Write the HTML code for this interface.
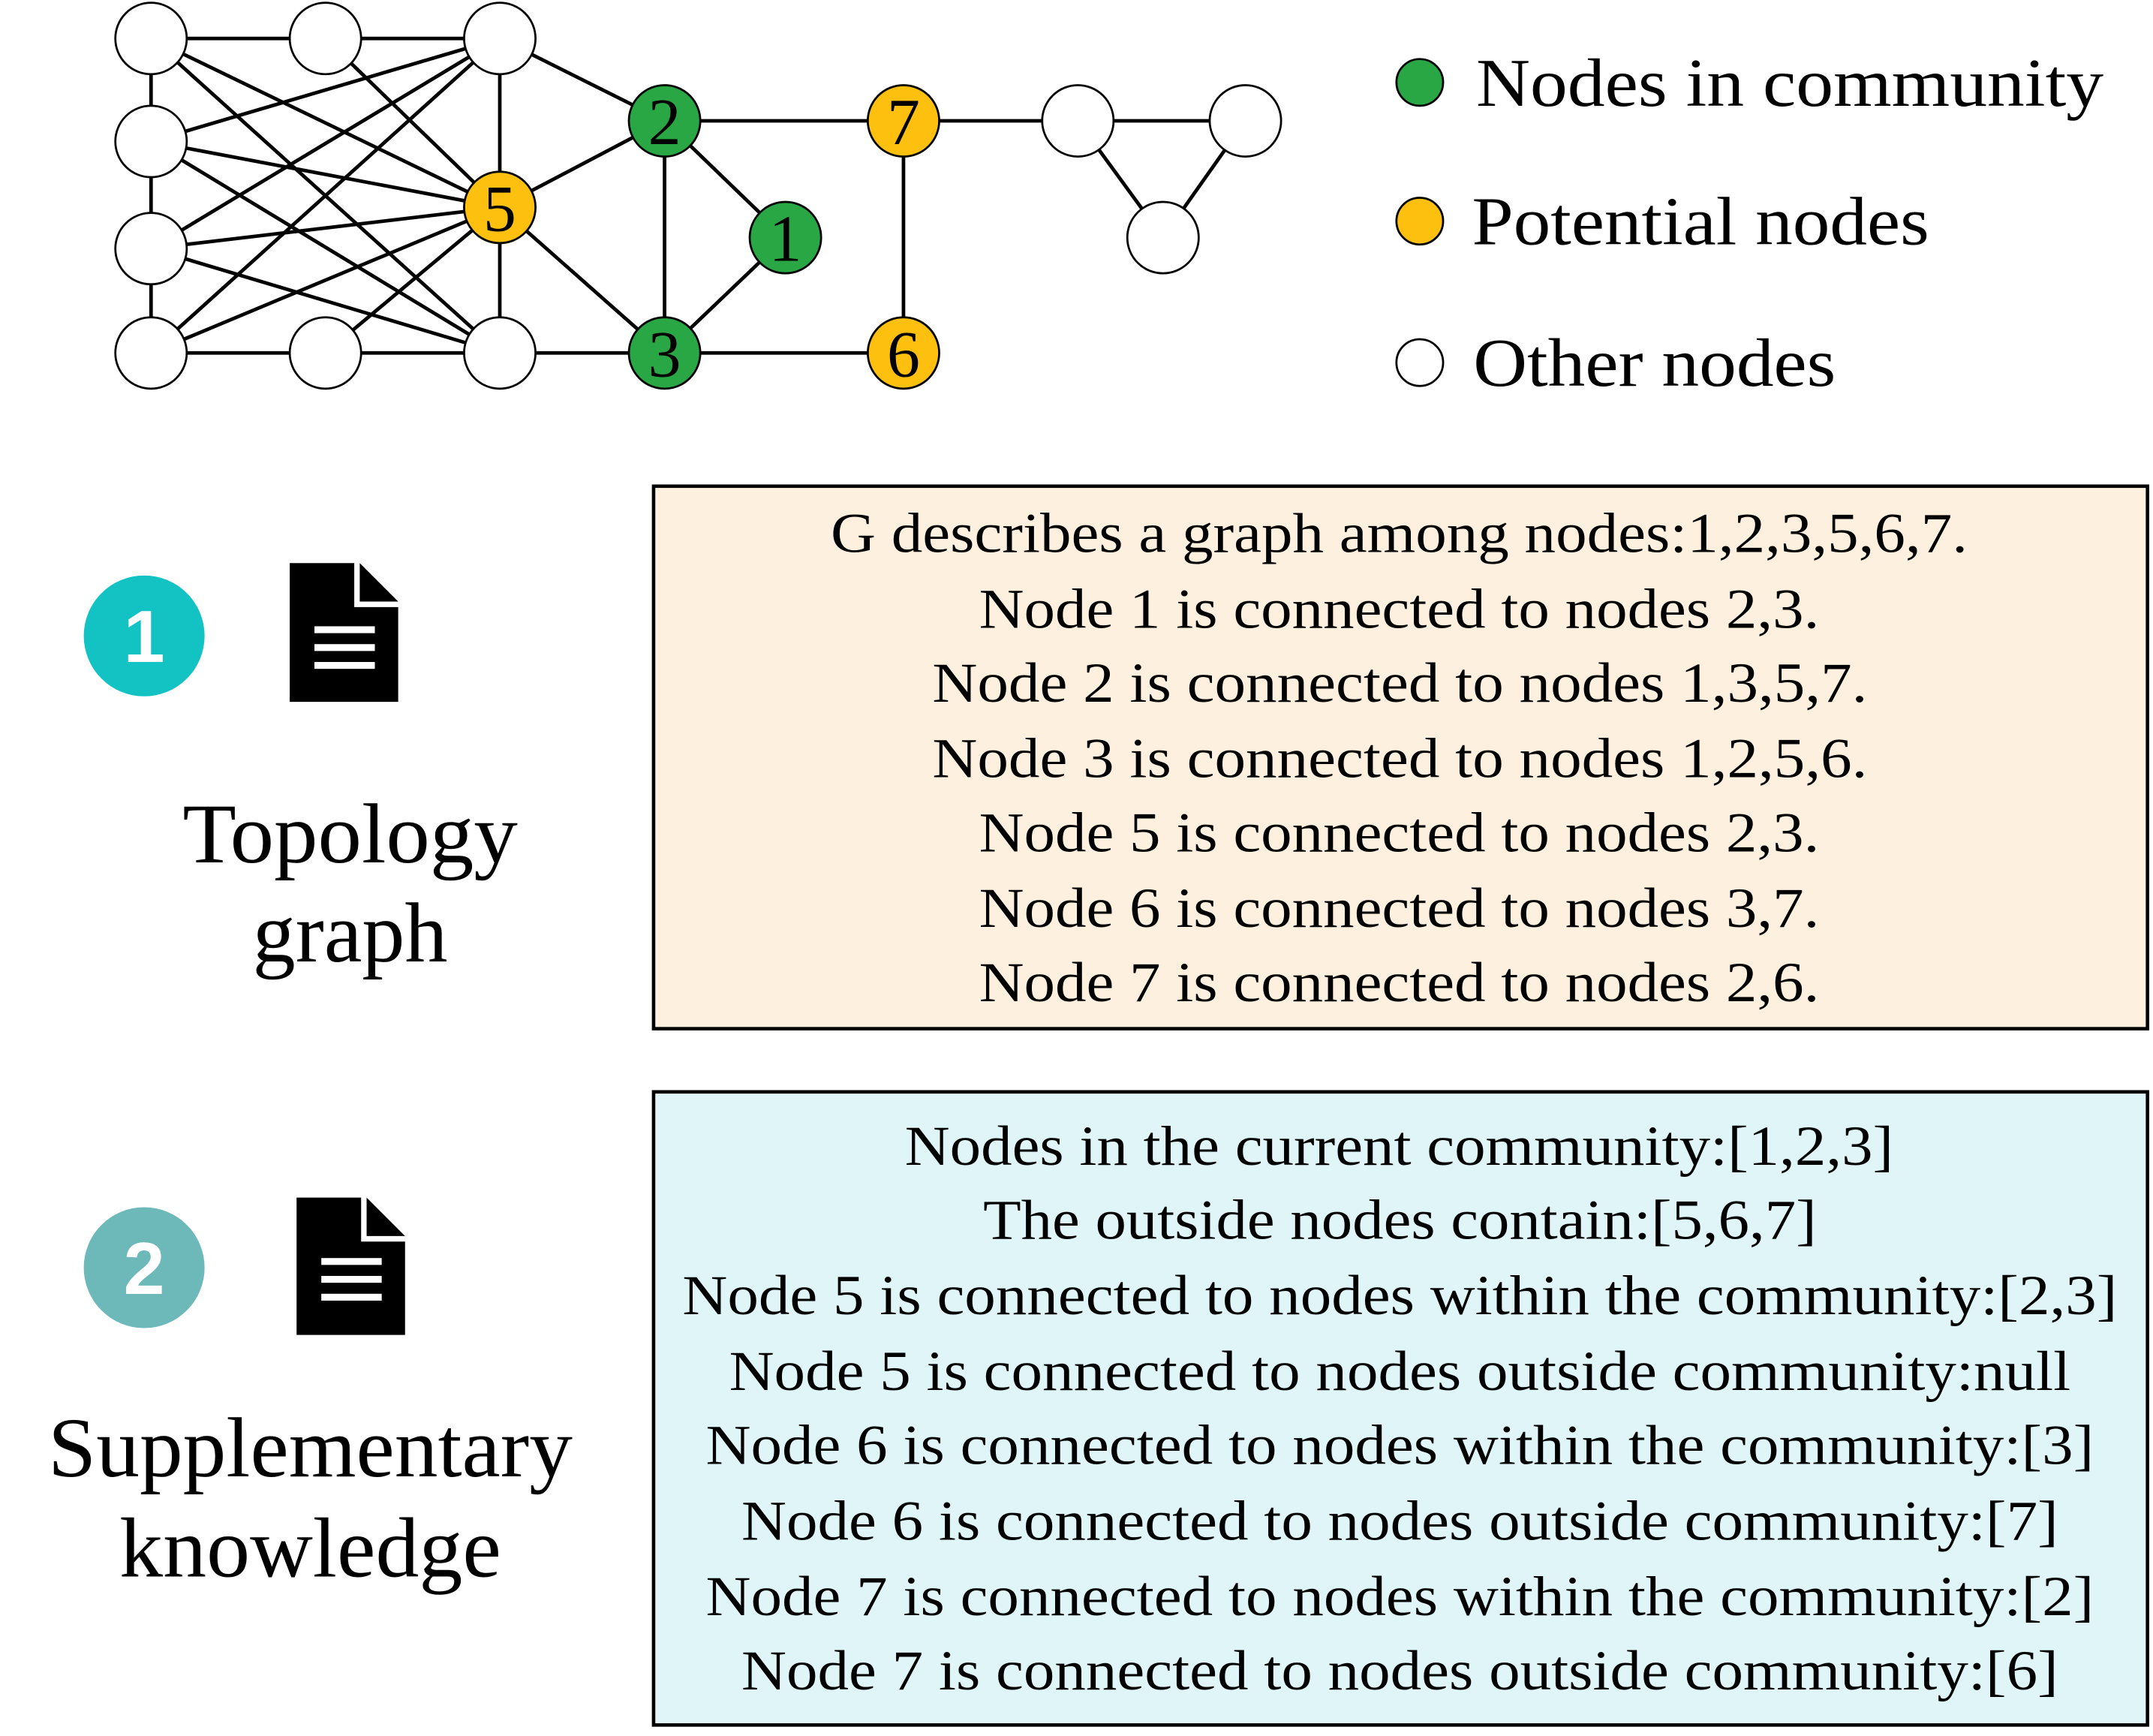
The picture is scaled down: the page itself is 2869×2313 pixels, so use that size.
<!DOCTYPE html>
<html><head><meta charset="utf-8"><style>html,body{margin:0;padding:0;background:#fff}svg{display:block}</style></head>
<body>
<svg width="2869" height="2313" viewBox="0 0 1568 1264" preserveAspectRatio="none" xmlns="http://www.w3.org/2000/svg" font-family="Liberation Serif, serif">
<g stroke="#000" stroke-width="2.6" fill="none">
<line x1="110" y1="28" x2="364" y2="28"/>
<line x1="110" y1="28" x2="110" y2="257"/>
<line x1="110" y1="257" x2="658" y2="257"/>
<line x1="364" y1="28" x2="364" y2="257"/>
<line x1="364" y1="28" x2="484" y2="88"/>
<line x1="364" y1="151" x2="484" y2="88"/>
<line x1="364" y1="151" x2="484" y2="257"/>
<line x1="484" y1="88" x2="484" y2="257"/>
<line x1="484" y1="88" x2="572" y2="173"/>
<line x1="572" y1="173" x2="484" y2="257"/>
<line x1="484" y1="88" x2="907" y2="88"/>
<line x1="658" y1="88" x2="658" y2="257"/>
<line x1="785" y1="88" x2="847" y2="173"/>
<line x1="907" y1="88" x2="847" y2="173"/>
<line x1="110" y1="28" x2="364" y2="151"/>
<line x1="110" y1="28" x2="364" y2="257"/>
<line x1="237" y1="28" x2="364" y2="151"/>
<line x1="364" y1="28" x2="110" y2="103"/>
<line x1="364" y1="28" x2="110" y2="181"/>
<line x1="364" y1="28" x2="110" y2="257"/>
<line x1="110" y1="103" x2="364" y2="151"/>
<line x1="110" y1="103" x2="364" y2="257"/>
<line x1="110" y1="181" x2="364" y2="151"/>
<line x1="110" y1="181" x2="364" y2="257"/>
<line x1="110" y1="257" x2="364" y2="151"/>
<line x1="237" y1="257" x2="364" y2="151"/>
</g>
<g stroke="#000" stroke-width="1.5">
<circle cx="110" cy="28" r="26" fill="#fff"/><circle cx="237" cy="28" r="26" fill="#fff"/><circle cx="364" cy="28" r="26" fill="#fff"/>
<circle cx="110" cy="103" r="26" fill="#fff"/><circle cx="110" cy="181" r="26" fill="#fff"/><circle cx="110" cy="257" r="26" fill="#fff"/>
<circle cx="237" cy="257" r="26" fill="#fff"/><circle cx="364" cy="257" r="26" fill="#fff"/>
<circle cx="785" cy="88" r="26" fill="#fff"/><circle cx="907" cy="88" r="26" fill="#fff"/><circle cx="847" cy="173" r="26" fill="#fff"/>
<circle cx="364" cy="151" r="26" fill="#fdc00f"/><circle cx="658" cy="88" r="26" fill="#fdc00f"/><circle cx="658" cy="257" r="26" fill="#fdc00f"/>
<circle cx="484" cy="88" r="26" fill="#29a745"/><circle cx="484" cy="257" r="26" fill="#29a745"/><circle cx="572" cy="173" r="26" fill="#29a745"/>
<circle cx="1034" cy="60" r="17" fill="#29a745"/><circle cx="1034" cy="161" r="17" fill="#fdc00f"/><circle cx="1034" cy="264" r="17" fill="#fff"/>
</g>
<g font-size="48" text-anchor="middle" fill="#000">
<text x="364" y="168">5</text><text x="658" y="105">7</text><text x="658" y="274">6</text>
<text x="484" y="105">2</text><text x="484" y="274">3</text><text x="572" y="190">1</text>
</g>
<g font-size="50" fill="#000">
<text x="1075" y="77" textLength="457" lengthAdjust="spacingAndGlyphs">Nodes in community</text>
<text x="1072" y="178" textLength="333" lengthAdjust="spacingAndGlyphs">Potential nodes</text>
<text x="1073" y="281" textLength="264" lengthAdjust="spacingAndGlyphs">Other nodes</text>
</g>
<rect x="476" y="354" width="1088" height="395" fill="#fef0df" stroke="#000" stroke-width="2.5"/>
<rect x="476" y="795" width="1088" height="461" fill="#e0f5f8" stroke="#000" stroke-width="2.5"/>
<g font-size="41" fill="#000">
<text x="605" y="402" textLength="828" lengthAdjust="spacingAndGlyphs">G describes a graph among nodes:1,2,3,5,6,7.</text>
<text x="713" y="457" textLength="612" lengthAdjust="spacingAndGlyphs">Node 1 is connected to nodes 2,3.</text>
<text x="679" y="511" textLength="681" lengthAdjust="spacingAndGlyphs">Node 2 is connected to nodes 1,3,5,7.</text>
<text x="679" y="566" textLength="681" lengthAdjust="spacingAndGlyphs">Node 3 is connected to nodes 1,2,5,6.</text>
<text x="713" y="620" textLength="612" lengthAdjust="spacingAndGlyphs">Node 5 is connected to nodes 2,3.</text>
<text x="713" y="675" textLength="612" lengthAdjust="spacingAndGlyphs">Node 6 is connected to nodes 3,7.</text>
<text x="713" y="729" textLength="612" lengthAdjust="spacingAndGlyphs">Node 7 is connected to nodes 2,6.</text>
<text x="659" y="848" textLength="720" lengthAdjust="spacingAndGlyphs">Nodes in the current community:[1,2,3]</text>
<text x="716" y="902" textLength="607" lengthAdjust="spacingAndGlyphs">The outside nodes contain:[5,6,7]</text>
<text x="497" y="957" textLength="1045" lengthAdjust="spacingAndGlyphs">Node 5 is connected to nodes within the community:[2,3]</text>
<text x="531" y="1012" textLength="977" lengthAdjust="spacingAndGlyphs">Node 5 is connected to nodes outside community:null</text>
<text x="514" y="1066" textLength="1011" lengthAdjust="spacingAndGlyphs">Node 6 is connected to nodes within the community:[3]</text>
<text x="540" y="1121" textLength="959" lengthAdjust="spacingAndGlyphs">Node 6 is connected to nodes outside community:[7]</text>
<text x="514" y="1176" textLength="1011" lengthAdjust="spacingAndGlyphs">Node 7 is connected to nodes within the community:[2]</text>
<text x="540" y="1230" textLength="959" lengthAdjust="spacingAndGlyphs">Node 7 is connected to nodes outside community:[6]</text>
</g>
<circle cx="105" cy="463" r="44" fill="#13c3c3"/>
<text x="105" y="482" font-family="Liberation Sans, sans-serif" font-weight="bold" font-size="54" fill="#fff" text-anchor="middle">1</text>
<circle cx="105" cy="923" r="44" fill="#6db8b9"/>
<text x="105" y="942" font-family="Liberation Sans, sans-serif" font-weight="bold" font-size="54" fill="#fff" text-anchor="middle">2</text>
<path d="M211 410 H258 V442 H290 V511 H211 Z" fill="#000"/>
<path d="M262 410 L290 438 H262 Z" fill="#000"/>
<rect x="229" y="456" width="44" height="5" fill="#fff"/><rect x="229" y="469" width="44" height="5" fill="#fff"/><rect x="229" y="482" width="44" height="5" fill="#fff"/>
<path d="M216 872 H263 V904 H295 V972 H216 Z" fill="#000"/>
<path d="M267 872 L295 900 H267 Z" fill="#000"/>
<rect x="234" y="916" width="44" height="5" fill="#fff"/><rect x="234" y="929" width="44" height="5" fill="#fff"/><rect x="234" y="942" width="44" height="5" fill="#fff"/>
<g font-size="62" fill="#000" text-anchor="middle">
<text x="255" y="628" textLength="244" lengthAdjust="spacingAndGlyphs">Topology</text>
<text x="255" y="700" textLength="142" lengthAdjust="spacingAndGlyphs">graph</text>
<text x="226" y="1075" textLength="382" lengthAdjust="spacingAndGlyphs">Supplementary</text>
<text x="226" y="1148" textLength="278" lengthAdjust="spacingAndGlyphs">knowledge</text>
</g>
</svg>
</body></html>
